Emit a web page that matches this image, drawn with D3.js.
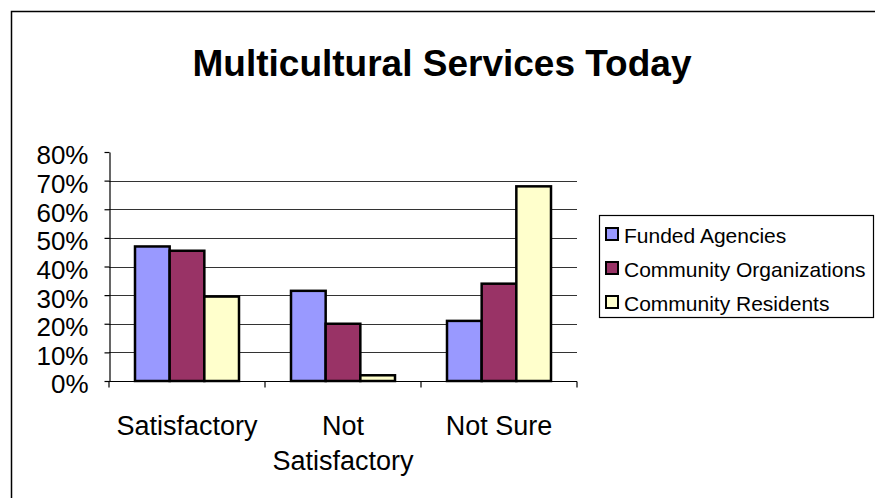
<!DOCTYPE html>
<html>
<head>
<meta charset="utf-8">
<script src="https://cdn.jsdelivr.net/npm/d3@7"></script>
<style>
  body { margin: 0; background: #fff; }
  text { font-family: Arial, "Liberation Sans", sans-serif; fill: #000; }
</style>
</head>
<body>
<script>
// chart data
let categories = [["Satisfactory"], ["Not", "Satisfactory"], ["Not Sure"]];
let seriesNames = ["Funded Agencies", "Community Organizations", "Community Residents"];
let seriesColors = ["#9999FF", "#993366", "#FFFFCC"];
let funded = [0.47, 0.315, 0.21];
let organizations = [0.455, 0.20, 0.34];
let residents = [0.295, 0.02, 0.68];
let yTicks = [0, 0.1, 0.2, 0.3, 0.4, 0.5, 0.6, 0.7, 0.8];

let values = [funded, organizations, residents];

let width = 875, height = 498;
// plot area
let plot = {left: 109, right: 577, top: 152, bottom: 381};

let svg = d3.select("body").append("svg")
    .attr("width", width)
    .attr("height", height);

// outer chart frame
svg.append("rect")
    .attr("x", 11.5).attr("y", 11.5)
    .attr("width", width).attr("height", height)
    .attr("fill", "none")
    .attr("stroke", "#000")
    .attr("stroke-width", 1.5);

// title
svg.append("text")
    .attr("x", 442).attr("y", 76)
    .attr("text-anchor", "middle")
    .style("font-size", "37px")
    .style("font-weight", "bold")
    .text("Multicultural Services Today");

// scales
let x = d3.scaleBand()
    .domain(d3.range(categories.length))
    .range([plot.left, plot.right])
    .paddingInner(0).paddingOuter(0);

let xSub = d3.scaleBand()
    .domain(d3.range(seriesNames.length))
    .range([0, x.bandwidth()])
    .paddingInner(0).paddingOuter(0.75);

let y = d3.scaleLinear().domain([0, 0.8]).range([plot.bottom, plot.top]);

// gridlines
svg.append("g")
    .selectAll("line")
    .data(yTicks.filter(function(d) { return d > 0 && d < 0.8; }))
    .enter().append("line")
    .attr("x1", plot.left).attr("x2", plot.right)
    .attr("y1", function(d) { return Math.round(y(d)) + 0.5; })
    .attr("y2", function(d) { return Math.round(y(d)) + 0.5; })
    .attr("stroke", "#333")
    .attr("stroke-width", 1);

// bars
values.forEach(function(vals, s) {
    svg.append("g")
        .selectAll("rect")
        .data(vals)
        .enter().append("rect")
        .attr("x", function(d, i) { return x(i) + xSub(s); })
        .attr("y", function(d) { return y(d); })
        .attr("width", xSub.bandwidth())
        .attr("height", function(d) { return y(0) - y(d); })
        .attr("fill", seriesColors[s])
        .attr("stroke", "#000")
        .attr("stroke-width", 2.5);
});

// Y axis
let yAxis = svg.append("g")
    .attr("transform", "translate(" + (plot.left + 0.5) + ",0)")
    .call(d3.axisLeft(y).tickValues(yTicks).tickFormat(d3.format(".0%"))
        .tickSize(5).tickSizeOuter(0).tickPadding(16));
yAxis.select(".domain").attr("stroke", "#000").attr("stroke-width", 1.2);
yAxis.selectAll(".tick line").attr("stroke", "#000").attr("stroke-width", 1.2);
yAxis.selectAll(".tick text")
    .attr("dy", "0.46em")
    .style("font-size", "26px")
    .style("font-family", "Arial, 'Liberation Sans', sans-serif")
    .attr("fill", "#000");

// X axis
let xAxis = svg.append("g")
    .attr("transform", "translate(0," + (plot.bottom + 0.5) + ")");
xAxis.append("line")
    .attr("x1", plot.left).attr("x2", plot.right)
    .attr("stroke", "#000").attr("stroke-width", 1.2);
xAxis.selectAll(".xtick")
    .data(d3.range(categories.length + 1))
    .enter().append("line")
    .attr("class", "xtick")
    .attr("x1", function(i) { return plot.left + i * x.step(); })
    .attr("x2", function(i) { return plot.left + i * x.step(); })
    .attr("y1", 0).attr("y2", 6)
    .attr("stroke", "#000").attr("stroke-width", 1.2);

// category labels
categories.forEach(function(lines, i) {
    let t = svg.append("text")
        .attr("text-anchor", "middle")
        .style("font-size", "27px");
    lines.forEach(function(line, k) {
        t.append("tspan")
            .attr("x", x(i) + x.bandwidth() / 2)
            .attr("y", 435 + k * 35)
            .text(line);
    });
});

// legend
let legend = svg.append("g");
legend.append("rect")
    .attr("x", 599.5).attr("y", 215.5)
    .attr("width", 274).attr("height", 102)
    .attr("fill", "#fff")
    .attr("stroke", "#000")
    .attr("stroke-width", 1.2);

seriesNames.forEach(function(name, s) {
    let base = 243 + s * 34;
    legend.append("rect")
        .attr("x", 606).attr("y", base - 15)
        .attr("width", 12).attr("height", 12)
        .attr("fill", seriesColors[s])
        .attr("stroke", "#000")
        .attr("stroke-width", 2);
    legend.append("text")
        .attr("x", 624).attr("y", base)
        .style("font-size", "21px")
        .text(name);
});
</script>
</body>
</html>
